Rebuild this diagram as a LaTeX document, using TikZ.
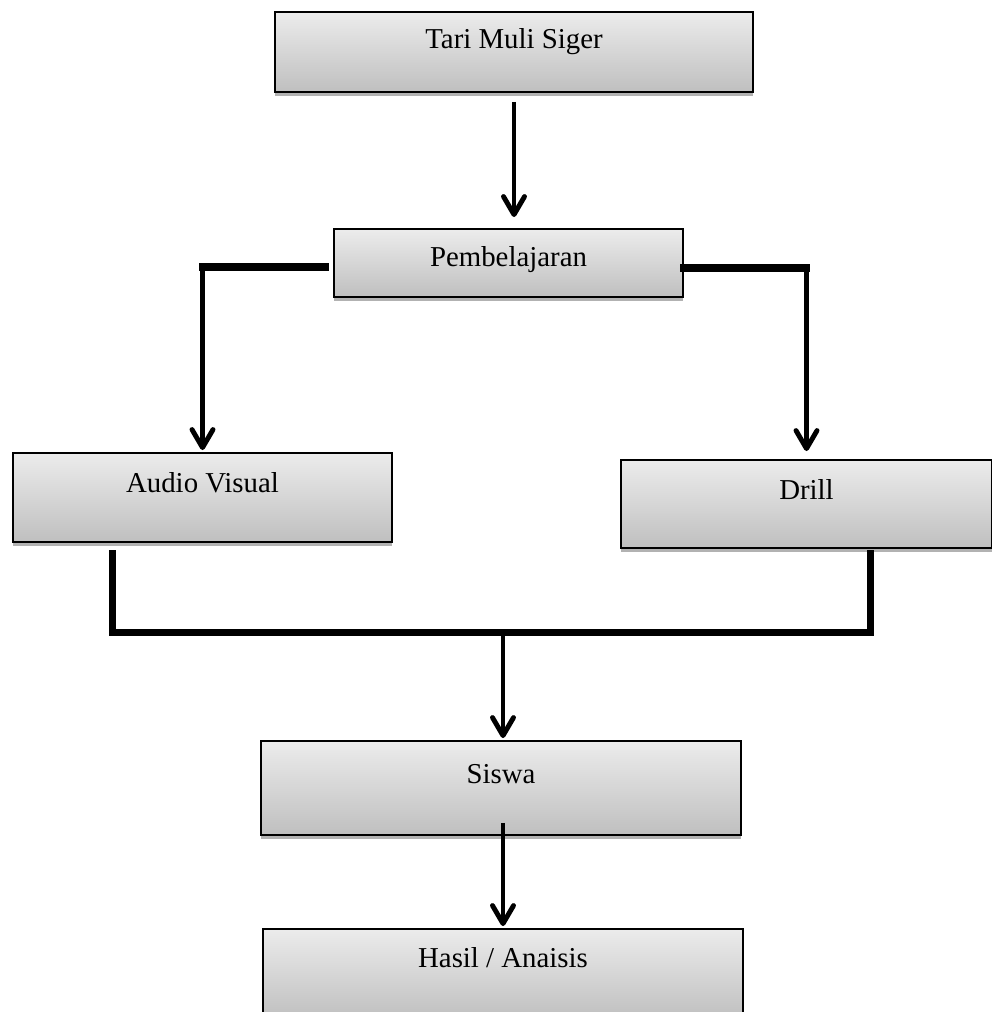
\documentclass[tikz,border=0pt]{standalone}
\usepackage{fontspec}
\setmainfont{Liberation Serif}
\usepackage{tikz}
\usetikzlibrary{arrows.meta, shadows}

\begin{document}
\begin{tikzpicture}[
    blok/.style={draw, line width=1.1pt, top color=gray!15, bottom color=gray!50,
        drop shadow={shadow xshift=0pt, shadow yshift=-0.08cm, fill=black!60},
        font=\fontsize{16.4}{19}\selectfont, inner ysep=0pt, text height=0.42cm},
    panah/.style={line width=2.8pt, -{Straight Barb[length=3.6mm, width=4.2mm, round]}},
    garis/.style={line width=4pt, line cap=rect}
]
    \useasboundingbox (0,0) rectangle (19.84,-20.24);
    \clip (0,0) rectangle (19.84,-20.24);

    % boxes
    \node[blok, minimum width=9.56cm, minimum height=1.60cm, text depth=0.54cm] (tari) at (10.28,-1.04) {Tari Muli Siger};
    \node[blok, minimum width=6.98cm, minimum height=1.36cm, text depth=0.30cm] (pemb) at (10.17,-5.26) {Pembelajaran};
    \node[blok, minimum width=7.58cm, minimum height=1.78cm, text depth=0.64cm] (audio) at (4.05,-9.95) {Audio Visual};
    \node[blok, minimum width=7.42cm, minimum height=1.76cm, text depth=0.62cm] (drill) at (16.13,-10.08) {Drill};
    \node[blok, minimum width=9.60cm, minimum height=1.88cm, text depth=0.62cm] (siswa) at (10.02,-15.76) {Siswa};
    \node[blok, minimum width=9.60cm, minimum height=1.80cm, text depth=0.70cm] (hasil) at (10.06,-19.48) {Hasil / Anaisis};

    % tari -> pembelajaran
    \draw[panah] ([yshift=-0.18cm]tari.south) -- ([yshift=0.22cm]tari.south |- pemb.north);

    % pembelajaran -> audio visual / drill
    \draw[garis] ([shift={(-0.16cm,-0.08cm)}]pemb.west) -- ([yshift=-0.08cm]pemb.west -| audio.north) coordinate (kiri);
    \draw[panah] (kiri) -- ([yshift=0.04cm]audio.north);
    \draw[garis] ([yshift=-0.10cm]pemb.east) -- ([yshift=-0.10cm]pemb.east -| drill.north) coordinate (kanan);
    \draw[panah] (kanan) -- ([yshift=0.16cm]drill.north);

    % audio visual + drill -> siswa
    \draw[garis] ([shift={(2.0cm,-0.22cm)}]audio.south west) -- ++(0,-1.58) coordinate (busL)
        -| ([shift={(-2.44cm,-0.10cm)}]drill.south east);
    \draw[panah] (busL -| hasil.north) -- ([yshift=0.04cm]siswa.north -| hasil.north);

    % siswa -> hasil
    \draw[panah] ([yshift=0.26cm]siswa.south -| hasil.north) -- ([yshift=0.04cm]hasil.north);
\end{tikzpicture}
\end{document}
